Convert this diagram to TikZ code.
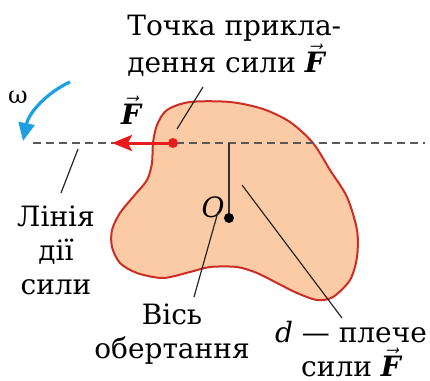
\documentclass[tikz,border=0pt]{standalone}
\usepackage{fontspec}
\setmainfont{DejaVu Serif}
\usetikzlibrary{arrows.meta}
\definecolor{bodyfill}{RGB}{250,203,165}
\definecolor{bodyline}{RGB}{205,45,35}
\definecolor{forcered}{RGB}{232,28,28}
\definecolor{omegablue}{RGB}{28,160,226}
\newcommand{\vF}{$\vec{\mbox{\bfseries\itshape F}}$}
\tikzset{
  lbl/.style={font=\fontsize{14}{17}\selectfont, inner sep=0pt},
  leader/.style={black!85, line width=0.6pt}
}

\begin{document}
\begin{tikzpicture}[x=0.5pt, y=-0.5pt]
      \useasboundingbox (0,0) rectangle (430,381);
      \fill[bodyfill] plot[smooth cycle, tension=0.5] coordinates {(153,143) (157,125) (167,110) (190,102) (230,102) (263,109) (290,122) (313,143) (330,170) (347,197) (357,230) (357,257) (350,280) (333,297) (317,300) (297,293) (277,283) (257,273) (237,267) (210,267) (190,272) (163,278) (137,273) (120,263) (112,247) (112,230) (120,213) (133,197) (147,180) (152,163)};
      \draw[bodyline, line width=1pt] plot[smooth cycle, tension=0.5] coordinates {(153,143) (157,125) (167,110) (190,102) (230,102) (263,109) (290,122) (313,143) (330,170) (347,197) (357,230) (357,257) (350,280) (333,297) (317,300) (297,293) (277,283) (257,273) (237,267) (210,267) (190,272) (163,278) (137,273) (120,263) (112,247) (112,230) (120,213) (133,197) (147,180) (152,163)};
      \coordinate (lineL) at (33,143);
      \coordinate (lineR) at (425,143);
      \coordinate (P) at (173,143);
      \coordinate (Ftip) at (112,143);
      \coordinate (O) at (229,218);
      \coordinate (foot) at (229,143);
      \draw[gray!70!black, line width=1pt, dash pattern=on 4pt off 2.5pt] (lineL) -- (lineR);
      \draw[black!80, line width=0.8pt] (foot) -- (O);
      \draw[forcered, line width=1.5pt, -{Stealth[length=10pt, width=8pt, inset=2pt]}] (P) -- (Ftip);
      \fill[forcered] (P) circle (5);
      \fill[black] (O) circle (5);
      \node[lbl, anchor=north west, align=left] (apply) at (127,15) {Точка прикла-\\дення сили \vF};
      \node[lbl, anchor=north, align=center] (actline) at (56,205) {Лінія\\дії\\сили};
      \node[lbl, anchor=north, align=center] (axis) at (172,303) {Вісь\\обертання};
      \node[lbl, anchor=north, align=center] (arm) at (351,321) {\textit{d} — плече\\сили \vF};
      \node[lbl] (Flbl) at (131,110) {\vF};
      \node[lbl, font=\fontsize{14}{17}\selectfont\itshape] (Olbl) at (213,207) {O};
      \node[font=\fontsize{12}{14}\selectfont, inner sep=0pt] (omega) at (18,97) {ω};
      \coordinate (a1) at (203,87);
      \coordinate (a2) at (177,129);
      \coordinate (b1) at (78,149);
      \coordinate (b2) at (61,193);
      \coordinate (c1) at (218,212);
      \coordinate (c2) at (194,297);
      \coordinate (d1) at (242,185);
      \coordinate (d2) at (342,318);
      \draw[leader] (a1) -- (a2);
      \draw[leader] (b1) -- (b2);
      \draw[leader] (c1) -- (c2);
      \draw[leader] (d1) -- (d2);
      \coordinate (w1) at (70,82);
      \coordinate (w2) at (23,141);
      \draw[omegablue, line width=1.6pt, -{Triangle[length=9pt, width=8pt]}] (w1) .. controls (48,92) and (29,112) .. (w2);
    \end{tikzpicture}
\end{document}
